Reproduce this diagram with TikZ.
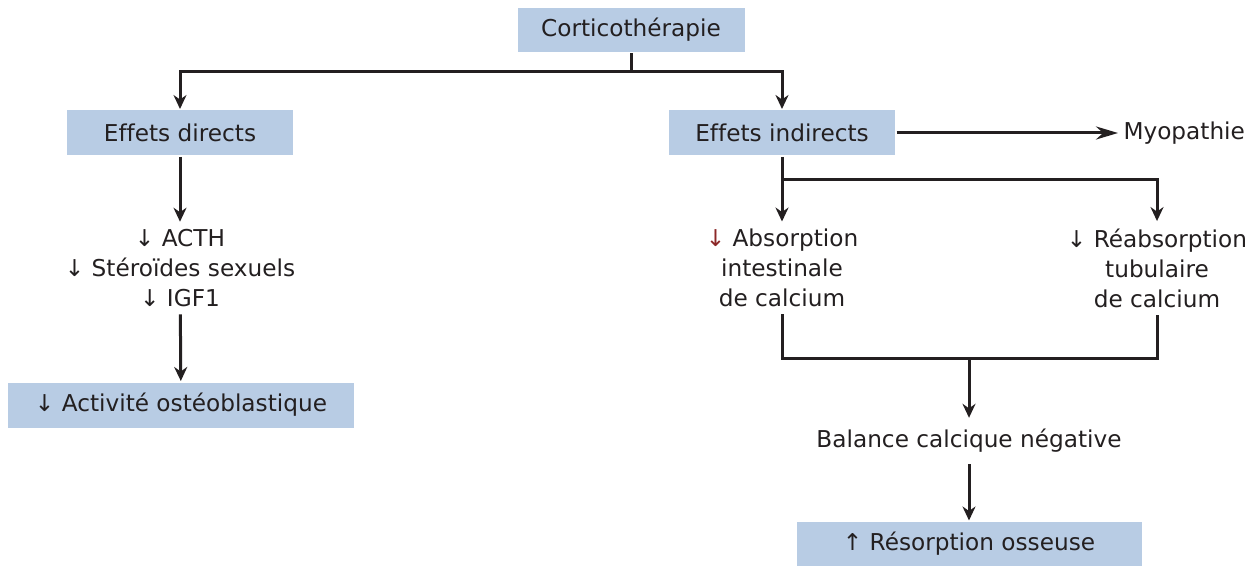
\documentclass[tikz,border=0pt]{standalone}
\usepackage{fontspec}
\setmainfont{DejaVu Sans}[Ligatures=NoCommon]
\usetikzlibrary{positioning}
\usetikzlibrary{arrows.meta}
\definecolor{boxblue}{RGB}{184,204,228}
\definecolor{inkgray}{RGB}{35,31,32}
\definecolor{arrowred}{RGB}{140,40,40}

\begin{document}
\begin{tikzpicture}[x=0.5pt,y=-0.5pt,
		font=\fontsize{11.6}{15}\selectfont, inkgray, line width=1.5pt,
		box/.style={fill=boxblue, minimum height=22.5pt, inner sep=0pt},
		txt/.style={align=center, inner sep=3pt},
		arr/.style={-{Stealth[length=7pt,width=6.5pt]}}]
		\useasboundingbox (0,0) rectangle (1256,566);
		\node (ct) [box, minimum width=113.5pt, minimum height=22pt] at (631,30) {Corticothérapie};
		\node (ed) [box, minimum width=113pt] at (180,133) {Effets directs};
		\node (ei) [box, minimum width=113pt] at (782,133) {Effets indirects};
		\node (myo) [anchor=west, inner sep=2pt] at (1118,133) {Myopathie};
		\node (hor) [txt] at (180,268) {↓ ACTH\\↓ Stéroïdes sexuels\\↓ IGF1};
		\node (osb) [box, minimum width=173pt] at (181,405) {↓ Activité ostéoblastique};
		\node (abs) [txt] at (782,268) {\textcolor{arrowred}{↓} Absorption\\intestinale\\de calcium};
		\node (reab) [txt] at (1157,268) {↓ Réabsorption\\tubulaire\\de calcium};
		\node (bal) [inner sep=5pt] at (969,441) {Balance calcique négative};
		\node (res) [box, minimum width=172.5pt, minimum height=22pt] at (969,544) {↑ Résorption osseuse};
		\coordinate (split) at (631,72);
		\coordinate (fork) at (782,180);
		\coordinate (join) at (969,358);
		\draw (ct) -- (split);
		\draw[arr] (split) -| (ed);
		\draw[arr] (split) -| (ei);
		\draw[-{Stealth[length=11pt,width=6.5pt]}] (ei) -- (myo);
		\draw[arr] (ed) -- (hor);
		\draw[arr] (hor) -- (osb);
		\draw[arr] (ei) -- (abs);
		\draw[arr] (fork) -| (reab);
		\draw (abs) |- (join) -| (reab);
		\draw[arr] (join) -- (bal);
		\draw[arr] (bal) -- (res);
\end{tikzpicture}
\end{document}
